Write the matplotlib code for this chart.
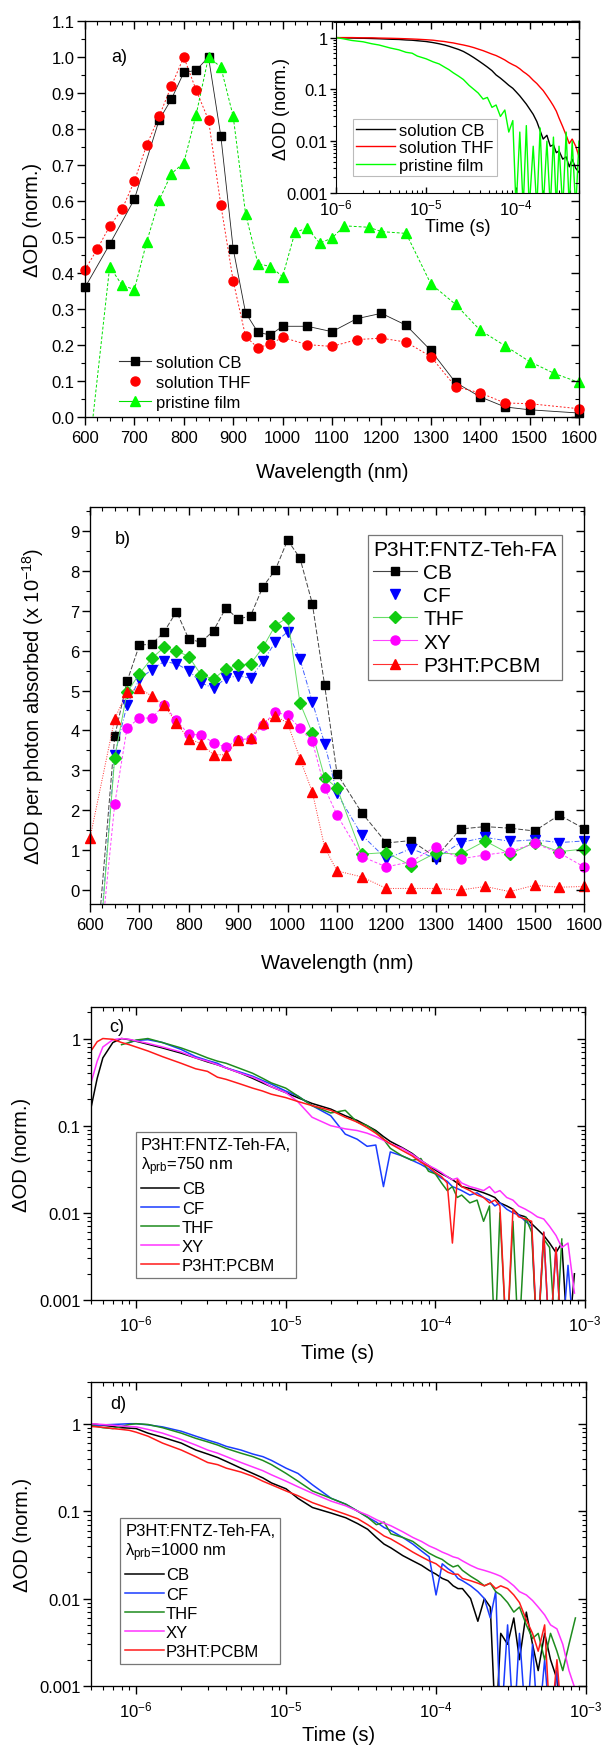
import numpy as np
import matplotlib
matplotlib.use('Agg')
import matplotlib.pyplot as plt
from matplotlib.lines import Line2D
from matplotlib.ticker import MultipleLocator, LogLocator, FuncFormatter, NullFormatter

plt.rcParams['font.family'] = ['Liberation Sans', 'DejaVu Sans']
plt.rcParams['mathtext.default'] = 'regular'

# ---------------- panel a: normalised spectra ----------------
wl_cb = [600, 650, 700, 750, 775, 800, 825, 850, 875, 900,
         925, 950, 975, 1000, 1050, 1100, 1150, 1200, 1250, 1300,
         1350, 1400, 1450, 1500, 1600]
od_cb = [0.36, 0.48, 0.605, 0.825, 0.883, 0.957, 0.963, 1.0, 0.78, 0.467,
         0.29, 0.235, 0.228, 0.252, 0.252, 0.237, 0.273, 0.288, 0.255, 0.185,
         0.096, 0.056, 0.028, 0.02, 0.011]
wl_thf = [600, 625, 650, 675, 700, 725, 750, 775, 800, 825,
          850, 875, 900, 925, 950, 975, 1000, 1050, 1100, 1150,
          1200, 1250, 1300, 1350, 1400, 1450, 1500, 1600]
od_thf = [0.409, 0.467, 0.53, 0.577, 0.655, 0.756, 0.835, 0.92, 1.0, 0.908,
          0.825, 0.589, 0.378, 0.224, 0.192, 0.203, 0.221, 0.201, 0.196, 0.215,
          0.219, 0.208, 0.168, 0.084, 0.067, 0.039, 0.037, 0.023]
wl_film = [600, 650, 675, 700, 725, 750, 775, 800, 825, 850,
           875, 900, 925, 950, 975, 1000, 1025, 1050, 1075, 1100,
           1125, 1175, 1200, 1250, 1300, 1350, 1400, 1450, 1500, 1550, 1600]
od_film = [-0.2, 0.418, 0.366, 0.354, 0.487, 0.602, 0.676, 0.706, 0.84, 1.0,
           0.972, 0.835, 0.565, 0.426, 0.418, 0.39, 0.513, 0.525, 0.483, 0.497,
           0.531, 0.527, 0.515, 0.51, 0.37, 0.313, 0.241, 0.198, 0.154, 0.121, 0.096]

# inset: kinetics of solutions / film
t_in = [1e-6, 1.2e-6, 1.5e-6, 2e-6, 2.5e-6, 3e-6, 4e-6, 5e-6, 6e-6, 7e-6,
        8e-6, 1e-5, 1.2e-5, 1.4e-5, 1.6e-5, 1.8e-5, 2e-5, 2.3e-5, 2.6e-5, 3e-5,
        3.4e-5, 3.8e-5, 4.3e-5, 4.8e-5, 5.4e-5, 6e-5, 6.7e-5, 7.5e-5, 8.3e-5, 9.2e-5,
        1e-4, 1.1e-4, 1.2e-4, 1.3e-4, 1.4e-4, 1.55e-4, 1.7e-4, 1.85e-4, 2e-4, 2.2e-4,
        2.4e-4, 2.6e-4, 2.8e-4, 3e-4, 3.3e-4, 3.6e-4, 3.9e-4, 4.2e-4, 4.6e-4, 5e-4]
in_cb = [1.0, 0.99, 0.98, 0.97, 0.96, 0.95, 0.93, 0.92, 0.90, 0.89,
         0.87, 0.84, 0.80, 0.76, 0.72, 0.68, 0.64, 0.59, 0.54, 0.47,
         0.41, 0.36, 0.31, 0.27, 0.23, 0.19, 0.165, 0.14, 0.12, 0.105,
         0.09, 0.075, 0.062, 0.052, 0.043, 0.033, 0.024, 0.016, 0.011, 0.013,
         0.008, 0.0085, 0.006, 0.0065, 0.0045, 0.005, 0.0032, 0.0045, 0.003, 0.0025]
in_thf = [1.0, 1.0, 1.0, 0.99, 0.99, 0.98, 0.97, 0.96, 0.95, 0.94,
          0.93, 0.91, 0.89, 0.86, 0.84, 0.81, 0.79, 0.75, 0.72, 0.68,
          0.64, 0.60, 0.56, 0.52, 0.48, 0.45, 0.41, 0.37, 0.33, 0.30,
          0.28, 0.25, 0.22, 0.20, 0.18, 0.15, 0.13, 0.11, 0.095, 0.075,
          0.06, 0.048, 0.038, 0.028, 0.019, 0.013, 0.009, 0.011, 0.008, 0.005]
in_film = [1.0, 0.95, 0.88, 0.83, 0.76, 0.72, 0.63, 0.58, 0.52, 0.50,
           0.44, 0.39, 0.34, 0.31, 0.27, 0.24, 0.21, 0.18, 0.155, 0.12,
           0.10, 0.085, 0.065, 0.07, 0.045, 0.05, 0.03, 0.04, 0.015, 0.025,
           0.0005, 0.015, 0.0005, 0.02, 0.0005, 0.008, 0.0005, 0.018, 0.0005, 0.01,
           0.0005, 0.012, 0.0005, 0.008, 0.0005, 0.015, 0.0005, 0.01, 0.0005, 0.01]

# ---------------- panel b: dOD per absorbed photon ----------------
wl_b = [600, 650, 675, 700, 725, 750, 775, 800, 825, 850,
        875, 900, 925, 950, 975, 1000, 1025, 1050, 1075, 1100,
        1150, 1200, 1250, 1300, 1350, 1400, 1450, 1500, 1550, 1600]
b_cb = [-3.6, 3.85, 5.23, 6.14, 6.16, 6.47, 6.98, 6.29, 6.21, 6.5,
        7.07, 6.79, 6.87, 7.6, 8.02, 8.77, 8.32, 7.18, 5.13, 2.92,
        1.94, 1.18, 1.24, 0.82, 1.53, 1.59, 1.55, 1.48, 1.88, 1.54]
b_cf = [-4.4, 3.38, 4.64, 5.29, 5.52, 5.73, 5.67, 5.5, 5.19, 5.06,
        5.31, 5.37, 5.31, 5.73, 6.21, 6.47, 5.79, 4.72, 3.67, 2.42,
        1.38, 0.78, 1.04, 0.79, 1.19, 1.32, 1.22, 1.26, 1.19, 1.23]
b_thf = [-4.5, 3.31, 4.96, 5.42, 5.81, 6.08, 6.0, 5.85, 5.39, 5.29,
         5.54, 5.64, 5.67, 6.08, 6.63, 6.83, 4.69, 3.94, 2.82, 2.56,
         0.9, 0.94, 0.61, 0.93, 0.9, 1.23, 0.9, 1.19, 0.96, 1.03]
b_xy = [-4.1, 2.15, 4.06, 4.31, 4.31, 4.64, 4.25, 3.9, 3.89, 3.69,
        3.58, 3.77, 3.79, 4.14, 4.46, 4.38, 4.06, 3.73, 2.56, 1.88,
        0.84, 0.58, 0.71, 1.09, 0.78, 0.88, 0.96, 1.17, 0.93, 0.58]
b_pcbm = [1.3, 4.29, 4.96, 5.06, 4.86, 4.64, 4.18, 3.79, 3.67, 3.39,
          3.39, 3.75, 3.81, 4.19, 4.36, 4.19, 3.29, 2.46, 1.07, 0.48,
          0.33, 0.04, 0.04, 0.04, 0.0, 0.09, -0.04, 0.12, 0.07, 0.09]

# ---------------- panels c, d: kinetics ----------------
t_cd = [5e-7, 5.5e-7, 6e-7, 7e-7, 8e-7, 9e-7, 1e-6, 1.2e-6,
        1.5e-6, 2e-6, 2.5e-6, 3e-6, 3.5e-6, 4e-6, 5e-6, 6e-6,
        7e-6, 8e-6, 1e-5, 1.2e-5, 1.5e-5, 2e-5, 2.5e-5, 3e-5,
        3.5e-5, 4e-5, 4.5e-5, 5e-5, 6e-5, 7e-5, 8e-5, 9e-5,
        1e-4, 1.1e-4, 1.2e-4, 1.3e-4, 1.4e-4, 1.5e-4, 1.7e-4, 1.9e-4,
        2.1e-4, 2.3e-4, 2.5e-4, 2.7e-4, 3e-4, 3.3e-4, 3.6e-4, 4e-4,
        4.4e-4, 4.8e-4, 5.3e-4, 5.8e-4, 6.4e-4, 7e-4, 7.7e-4, 8.5e-4]
nan = np.nan
c_cb = [0.16, 0.35, 0.6, 0.9, 1.0, 0.97, 0.93, 0.86,
        0.78, 0.68, 0.60, 0.54, 0.50, 0.46, 0.40, 0.35,
        0.31, 0.28, 0.24, 0.21, 0.18, 0.155, 0.13, 0.115,
        0.10, 0.088, 0.075, 0.066, 0.056, 0.048, 0.04, 0.035,
        0.031, 0.028, 0.026, 0.024, 0.022, 0.02, 0.019, 0.018,
        0.017, 0.016, 0.015, 0.013, 0.012, 0.011, 0.0095, 0.009,
        0.0075, 0.0065, 0.0055, 0.0045, 0.0035, 0.0045, 0.0003, 0.002]
c_cf = [nan, nan, nan, nan, nan, 0.9, 0.95, 0.97,
        0.9, 0.75, 0.62, 0.56, 0.52, 0.46, 0.41, 0.37,
        0.33, 0.3, 0.25, 0.22, 0.17, 0.13, 0.08, 0.07,
        0.058, 0.06, 0.02, 0.05, 0.045, 0.04, 0.036, 0.032,
        0.028, 0.025, 0.023, 0.02, 0.019, 0.018, 0.016, 0.017,
        0.015, 0.014, 0.012, 0.013, 0.011, 0.01, 0.0095, 0.008,
        0.007, 0.0003, 0.006, 0.0003, 0.004, 0.0003, 0.0025, 0.0003]
c_thf = [nan, nan, nan, nan, 0.85, 0.9, 0.96, 1.0,
         0.9, 0.78, 0.68, 0.6, 0.55, 0.52, 0.45, 0.4,
         0.35, 0.31, 0.27, 0.22, 0.17, 0.14, 0.15, 0.11,
         0.1, 0.085, 0.07, 0.055, 0.045, 0.04, 0.042, 0.03,
         0.028, 0.022, 0.018, 0.02, 0.015, 0.016, 0.013, 0.014,
         0.008, 0.012, 0.0003, 0.01, 0.0003, 0.008, 0.0003, 0.009,
         0.006, 0.0003, 0.005, 0.004, 0.0003, 0.005, nan, nan]
c_xy = [0.31, 0.55, 0.8, 0.97, 1.0, 0.98, 0.94, 0.88,
        0.8, 0.7, 0.6, 0.55, 0.5, 0.46, 0.4, 0.36,
        0.32, 0.28, 0.24, 0.19, 0.125, 0.1, 0.092, 0.088,
        0.082, 0.075, 0.068, 0.062, 0.055, 0.047, 0.04, 0.035,
        0.032, 0.029, 0.026, 0.024, 0.025, 0.022, 0.02, 0.019,
        0.018, 0.02, 0.017, 0.018, 0.015, 0.014, 0.012, 0.011,
        0.01, 0.009, 0.0085, 0.007, 0.0055, 0.004, 0.0045, 0.0012]
c_pcbm = [0.72, 0.92, 1.0, 0.98, 0.9, 0.85, 0.8, 0.72,
          0.62, 0.52, 0.45, 0.42, 0.36, 0.34, 0.30, 0.27,
          0.25, 0.23, 0.21, 0.19, 0.17, 0.15, 0.125, 0.11,
          0.095, 0.082, 0.07, 0.062, 0.052, 0.045, 0.038, 0.034,
          0.029, 0.026, 0.022, 0.0045, 0.024, 0.02, 0.018, 0.016,
          0.015, 0.013, 0.014, 0.012, 0.0003, 0.011, 0.009, 0.0085,
          0.008, 0.0003, 0.006, 0.0003, 0.004, 0.0003, 0.0003, 0.0003]

d_cb = [1.0, 0.98, 0.96, 0.93, 0.9, 0.89, 0.88, 0.78,
        0.7, 0.6, 0.5, 0.45, 0.41, 0.37, 0.31, 0.27,
        0.24, 0.21, 0.18, 0.14, 0.11, 0.095, 0.084, 0.072,
        0.062, 0.05, 0.042, 0.038, 0.031, 0.027, 0.024, 0.021,
        0.019, 0.017, 0.016, 0.014, 0.013, 0.013, 0.01, 0.0055,
        0.01, 0.008, 0.0003, 0.004, 0.003, 0.006, 0.002, 0.007,
        0.003, 0.0015, 0.004, 0.002, 0.0012, 0.0003, nan, nan]
d_cf = [0.95, 0.96, 0.97, 0.98, 0.99, 1.0, 1.0, 0.97,
        0.92, 0.82, 0.72, 0.65, 0.6, 0.55, 0.5, 0.45,
        0.42, 0.38, 0.31, 0.27, 0.2, 0.14, 0.12, 0.1,
        0.085, 0.075, 0.065, 0.06, 0.05, 0.042, 0.035, 0.03,
        0.011, 0.025, 0.022, 0.02, 0.017, 0.016, 0.014, 0.012,
        0.01, 0.006, 0.012, 0.0003, 0.005, 0.0003, 0.004, 0.0003,
        0.003, 0.0003, 0.002, 0.0003, 0.0015, 0.0003, 0.0003, nan]
d_thf = [0.95, 0.93, 0.9, 0.88, 0.93, 0.98, 1.0, 0.98,
         0.9, 0.78, 0.68, 0.62, 0.57, 0.52, 0.46, 0.42,
         0.38, 0.34, 0.27, 0.22, 0.17, 0.14, 0.12, 0.1,
         0.085, 0.07, 0.075, 0.055, 0.05, 0.045, 0.038, 0.033,
         0.03, 0.028, 0.025, 0.023, 0.024, 0.021, 0.018, 0.016,
         0.014, 0.015, 0.012, 0.011, 0.009, 0.007, 0.008, 0.005,
         0.0035, 0.004, 0.002, 0.004, 0.0025, 0.0015, 0.003, 0.006]
d_xy = [1.0, 0.99, 0.98, 0.96, 0.94, 0.93, 0.92, 0.86,
        0.78, 0.66, 0.57, 0.5, 0.46, 0.42, 0.36, 0.32,
        0.29, 0.26, 0.22, 0.19, 0.16, 0.13, 0.115, 0.1,
        0.09, 0.08, 0.073, 0.068, 0.058, 0.05, 0.045, 0.04,
        0.037, 0.034, 0.032, 0.03, 0.029, 0.027, 0.024, 0.022,
        0.021, 0.02, 0.019, 0.018, 0.016, 0.014, 0.012, 0.011,
        0.0095, 0.008, 0.0065, 0.005, 0.0045, 0.003, 0.0015, 0.0009]
d_pcbm = [0.93, 0.92, 0.91, 0.88, 0.86, 0.84, 0.8, 0.72,
          0.6, 0.5, 0.42, 0.36, 0.34, 0.31, 0.28, 0.25,
          0.22, 0.2, 0.17, 0.15, 0.125, 0.105, 0.092, 0.082,
          0.07, 0.06, 0.052, 0.048, 0.04, 0.034, 0.03, 0.027,
          0.025, 0.022, 0.02, 0.019, 0.019, 0.017, 0.016, 0.015,
          0.014, 0.015, 0.013, 0.014, 0.013, 0.011, 0.009, 0.0057,
          0.004, 0.0025, 0.005, 0.0003, 0.002, 0.0003, nan, nan]

kin_labels = ['CB', 'CF', 'THF', 'XY', 'P3HT:PCBM']
kin_colors = ['#000000', '#1a3cff', '#1e8c1e', '#ff33ff', '#ff1a1a']

# ---------------- figure ----------------
W, H = 605, 1749
fig = plt.figure(figsize=(W / 100, H / 100), dpi=100)


def box(l, t, r, b):
    # axes from pixel edges (left, top, right, bottom)
    return fig.add_axes([l / W, 1 - b / H, (r - l) / W, (b - t) / H])


def ticks(ax, xdir='out', ydir='out'):
    ax.tick_params(axis='x', which='both', direction=xdir, top=False, labelsize=12, pad=4)
    ax.tick_params(axis='y', which='both', direction=ydir, right=False, labelsize=12, pad=2)
    ax.tick_params(which='major', length=5.5, width=1)
    ax.tick_params(which='minor', length=3, width=0.8)


def mirror(ax, xloc, yloc, log=False):
    tx = ax.twiny()
    ty = ax.twinx()
    if log:
        tx.set_xscale('log')
        ty.set_yscale('log')
    tx.set_xlim(ax.get_xlim())
    ty.set_ylim(ax.get_ylim())
    tx.xaxis.set_major_locator(xloc[0])
    tx.xaxis.set_minor_locator(xloc[1])
    ty.yaxis.set_major_locator(yloc[0])
    ty.yaxis.set_minor_locator(yloc[1])
    tx.tick_params(which='both', direction='in', labeltop=False)
    ty.tick_params(which='both', direction='in', labelright=False)
    for a in (tx, ty):
        a.tick_params(which='major', length=5.5, width=1)
        a.tick_params(which='minor', length=3, width=0.8)


def in_range(y, lo, hi):
    y = np.asarray(y, dtype=float)
    return np.where((y >= lo) & (y <= hi), y, np.nan)


def log_fmt(ax):
    ax.xaxis.set_major_formatter(FuncFormatter(lambda v, p: r'$10^{%d}$' % round(np.log10(v))))
    ax.xaxis.set_minor_formatter(NullFormatter())
    ax.yaxis.set_major_formatter(FuncFormatter(lambda v, p: '%g' % v))
    ax.yaxis.set_minor_formatter(NullFormatter())


def log_locs():
    return (LogLocator(base=10, numticks=20),
            LogLocator(base=10, subs=np.arange(2, 10), numticks=20))


# ---- panel a ----
ax = box(85, 22, 579, 418)
ax.set_xlim(600, 1600)
ax.set_ylim(0, 1.1)
ax.plot(wl_cb, od_cb, color='#222222', lw=0.6)
ax.plot(wl_thf, od_thf, color='#ff2020', lw=0.7, ls=(0, (2, 2)))
ax.plot(wl_film, od_film, color='#00e000', lw=0.7, ls=(0, (3, 2)))
ax.plot(wl_cb, in_range(od_cb, 0, 1.1), 's', color='black', ms=6, ls='none', clip_on=False)
ax.plot(wl_thf, in_range(od_thf, 0, 1.1), 'o', color='#ff0000', ms=6.5, ls='none', clip_on=False)
ax.plot(wl_film, in_range(od_film, 0, 1.1), '^', color='#00ff00', ms=7, ls='none', clip_on=False)
ax.xaxis.set_major_locator(MultipleLocator(100))
ax.xaxis.set_minor_locator(MultipleLocator(25))
ax.yaxis.set_major_locator(MultipleLocator(0.1))
ax.yaxis.set_minor_locator(MultipleLocator(0.05))
ax.yaxis.set_major_formatter(FuncFormatter(lambda v, p: '%.1f' % v))
ticks(ax)
ax.set_xlabel('Wavelength (nm)', fontsize=14.5)
ax.set_ylabel('ΔOD (norm.)', fontsize=14.5)
ax.xaxis.set_label_coords(0.5, -0.114)
ax.yaxis.set_label_coords(-0.087, 0.5)
ax.text(0.07, 0.91, 'a)', transform=ax.transAxes, fontsize=13, ha='center', va='center')
hdl = [Line2D([], [], color='#333333', lw=0.8, marker='s', ms=6, mfc='black', mec='black'),
       Line2D([], [], color='#ff0000', ls='none', marker='o', ms=6.5),
       Line2D([], [], color='#00e000', lw=0.8, marker='^', ms=7, mfc='#00ff00', mec='#00ff00')]
ax.legend(hdl, ['solution CB', 'solution THF', 'pristine film'], loc='lower left',
          bbox_to_anchor=(0.045, -0.012), frameon=False, fontsize=12, handlelength=1.9,
          handletextpad=0.3, labelspacing=0.3, borderpad=0.2)

ins = box(336, 23, 579, 194)
ins.set_xscale('log')
ins.set_yscale('log')
ins.set_xlim(1e-6, 5e-4)
ins.set_ylim(0.001, 2)
l1, = ins.plot(t_in, in_cb, color='black', lw=1.0)
l2, = ins.plot(t_in, in_thf, color='#ff0000', lw=1.0)
l3, = ins.plot(t_in, in_film, color='#00ff00', lw=1.0)
ins.xaxis.set_major_locator(log_locs()[0])
ins.xaxis.set_minor_locator(log_locs()[1])
ins.yaxis.set_major_locator(log_locs()[0])
ins.yaxis.set_minor_locator(log_locs()[1])
log_fmt(ins)
ins.tick_params(axis='x', which='both', direction='in', top=False, labelsize=12, pad=3)
ins.tick_params(axis='y', which='both', direction='out', right=False, labelsize=12, pad=2)
ins.tick_params(which='major', length=4, width=1)
ins.tick_params(which='minor', length=2, width=0.8)
ins.set_xlabel('Time (s)', fontsize=13)
ins.set_ylabel('ΔOD (norm.)', fontsize=13)
ins.xaxis.set_label_coords(0.5, -0.146)
ins.yaxis.set_label_coords(-0.19, 0.5)
leg = ins.legend([l1, l2, l3], ['solution CB', 'solution THF', 'pristine film'], loc='lower left',
                 bbox_to_anchor=(0.07, 0.1), borderaxespad=0, fontsize=12, handlelength=2.3,
                 handletextpad=0.25, labelspacing=0.15, borderpad=0.2, fancybox=False)
leg.get_frame().set_edgecolor('#aaaaaa')
leg.get_frame().set_linewidth(0.8)

mirror(ax, (MultipleLocator(100), MultipleLocator(25)), (MultipleLocator(0.1), MultipleLocator(0.05)))

# ---- panel b ----
bx = box(90, 508, 584, 905)
bx.set_xlim(600, 1600)
bx.set_ylim(-0.35, 9.6)
b_series = [(b_cb, 's', 'black', '#444444', (0, (5, 2)), 6),
            (b_cf, 'v', '#0000ff', '#4060ff', (0, (5, 2, 1, 2)), 7),
            (b_thf, 'D', '#11cc11', '#66dd66', '-', 6),
            (b_xy, 'o', '#ff00ff', '#ff44ff', (0, (3, 2)), 6.5),
            (b_pcbm, '^', '#ff0000', '#ff3030', (0, (1, 1.5)), 7)]
hdl = []
for ys, mk, mc, lc, ls, ms in b_series:
    bx.plot(wl_b, ys, color=lc, lw=0.7, ls=ls)
    bx.plot(wl_b, in_range(ys, -0.35, 9.6), mk, color=mc, ms=ms, ls='none', clip_on=False)
    hdl.append(Line2D([], [], color=lc, lw=0.8, marker=mk, ms=ms, mfc=mc, mec=mc))
hdl[1].set_linestyle('none')
bx.xaxis.set_major_locator(MultipleLocator(100))
bx.xaxis.set_minor_locator(MultipleLocator(25))
bx.yaxis.set_major_locator(MultipleLocator(1))
bx.yaxis.set_minor_locator(MultipleLocator(0.5))
ticks(bx)
bx.set_xlabel('Wavelength (nm)', fontsize=14.5)
bx.set_ylabel(r'ΔOD per photon absorbed (x 10$^{-18}$)', fontsize=14.5)
bx.xaxis.set_label_coords(0.5, -0.123)
bx.yaxis.set_label_coords(-0.089, 0.5)
bx.text(0.067, 0.92, 'b)', transform=bx.transAxes, fontsize=13, ha='center', va='center')
leg = bx.legend(hdl, ['CB', 'CF', 'THF', 'XY', 'P3HT:PCBM'], title='P3HT:FNTZ-Teh-FA',
                title_fontsize=15, fontsize=15, loc='upper right', bbox_to_anchor=(0.955, 0.93),
                borderaxespad=0, alignment='left', handlelength=2.1, handletextpad=0.3,
                labelspacing=0.2, borderpad=0.25, fancybox=False)
leg.get_frame().set_edgecolor('#555555')
leg.get_frame().set_linewidth(0.9)
mirror(bx, (MultipleLocator(100), MultipleLocator(25)), (MultipleLocator(1), MultipleLocator(0.5)))

# ---- panels c, d ----
kin = [((91, 1008, 585, 1301), (0.001, 2.3), [c_cb, c_cf, c_thf, c_xy, c_pcbm], '750 nm',
        'c)', (0.053, 0.935), (0.091, 0.075), -0.147, -0.121),
       ((91, 1383, 586, 1687), (0.001, 3.0), [d_cb, d_cf, d_thf, d_xy, d_pcbm], '1000 nm',
        'd)', (0.055, 0.93), (0.059, 0.072), -0.128, -0.119)]
for pos, ylim, series, lam, tag, tagxy, legxy, xl, yl in kin:
    k = box(*pos)
    k.set_xscale('log')
    k.set_yscale('log')
    k.set_xlim(5e-7, 1e-3)
    k.set_ylim(*ylim)
    lines = []
    for ys, col in zip(series, kin_colors):
        ln, = k.plot(t_cd, ys, color=col, lw=1.1)
        lines.append(ln)
    for axis in (k.xaxis, k.yaxis):
        axis.set_major_locator(log_locs()[0])
        axis.set_minor_locator(log_locs()[1])
    log_fmt(k)
    ticks(k)
    k.set_xlabel('Time (s)', fontsize=14.5)
    k.set_ylabel('ΔOD (norm.)', fontsize=14.5)
    k.xaxis.set_label_coords(0.5, xl)
    k.yaxis.set_label_coords(yl, 0.5)
    k.text(tagxy[0], tagxy[1], tag, transform=k.transAxes, fontsize=13, ha='center', va='center')
    leg = k.legend(lines, kin_labels, title='P3HT:FNTZ-Teh-FA,\nλ$_{prb}$=' + lam,
                   title_fontsize=12, fontsize=12, loc='lower left', bbox_to_anchor=legxy,
                   borderaxespad=0, alignment='left', handlelength=2.3, handletextpad=0.15,
                   labelspacing=0.25, borderpad=0.3, fancybox=False)
    leg.get_frame().set_edgecolor('#555555')
    leg.get_frame().set_linewidth(0.9)
    mirror(k, log_locs(), log_locs(), log=True)

fig.savefig('out.png', dpi=100, facecolor='white')
